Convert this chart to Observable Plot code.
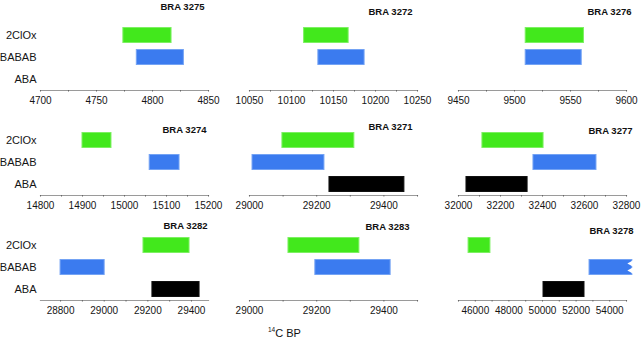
<!DOCTYPE html>
<html><head><meta charset="utf-8">
<script src="https://cdn.jsdelivr.net/npm/d3@7"></script>
<script src="https://cdn.jsdelivr.net/npm/@observablehq/plot@0.6"></script>
<style>
body{margin:0;background:#fff;}
#wrap{position:relative;width:642px;height:346px;overflow:hidden;font-family:"Liberation Sans",Arial,sans-serif;background:#fff;}
.panel{position:absolute;}
#xlabel{position:absolute;left:268px;top:326px;font-size:11px;color:#111;white-space:nowrap;}
#xlabel sup{font-size:6.5px;vertical-align:5px;}
</style></head><body><div id="wrap"></div>
<script>
// ---- data ----
const groups = ["2ClOx", "BABAB", "ABA"];
const samples = ["BRA 3275", "BRA 3272", "BRA 3276", "BRA 3274", "BRA 3271", "BRA 3277", "BRA 3282", "BRA 3283", "BRA 3278"];
const startClOx = [4774, 10115, 9510, 14900, 29098, 32114, 29180, 29116, 45600];
const endClOx   = [4817, 10168, 9562, 14969, 29312, 32405, 29391, 29327, 46900];
const startBABAB = [4786, 10132, 9510, 15060, 29009, 32357, 28800, 29196, 52800];
const endBABAB   = [4828, 10187, 9560, 15131, 29223, 32657, 29002, 29420, 55350];
const startABA = [null, null, null, null, 29238, 32038, 29221, null, 50060];
const endABA   = [null, null, null, null, 29461, 32329, 29437, null, 52500];
const truncatedBABAB = [false, false, false, false, false, false, false, false, true];
const xDomains = [[4700, 4850], [10050, 10250], [9450, 9600], [14800, 15200], [29000, 29500], [32000, 32800], [28708, 29478], [29000, 29500], [45000, 55000]];
const tickLabels = [
  [4700, 4750, 4800, 4850],
  [10050, 10100, 10150, 10200, 10250],
  [9450, 9500, 9550, 9600],
  [14800, 14900, 15000, 15100, 15200],
  [29000, 29200, 29400],
  [32000, 32200, 32400, 32600, 32800],
  [28800, 29000, 29200, 29400],
  [29000, 29200, 29400],
  [46000, 48000, 50000, 52000, 54000]
];
const minorStep = [25, 25, 25, 50, 100, 100, 100, 100, 1000];
const xTitle = "C BP";

// ---- layout / style ----
const colors = {"2ClOx": "#42e81c", "BABAB": "#3b7bef", "ABA": "#000000"};
const edge = {"2ClOx": "#7df062", "BABAB": "#74a3f4", "ABA": "#111111"};
const titleDx = [-4, -5, 5, -2, -5, 6, -1, -8, 7];
const titleDy = [6, 11, 11.5, 24, 21.5, 25.5, 15, 16.5, 20.5];
const starts = [startClOx, startBABAB, startABA];
const ends = [endClOx, endBABAB, endABA];
const font = "'Liberation Sans', Arial, sans-serif";

const wrap = document.getElementById("wrap");
samples.forEach((s, i) => {
  const col = i % 3, row = Math.floor(i / 3);
  const rows = [];
  groups.forEach((g, k) => {
    const st = starts[k][i], en = ends[k][i];
    if (st != null) rows.push({group: g, start: st, end: en});
  });
  const d0 = xDomains[i][0], d1 = xDomains[i][1], st = minorStep[i];
  const minor = d3.range(Math.ceil(d0 / st) * st, d1 + 1e-6, st);
  const notch = truncatedBABAB[i] ? rows.filter(r => r.group === "BABAB") : [];
  const marks = [
    Plot.barX(rows, {y: "group", x1: "start", x2: "end", fill: d => colors[d.group], stroke: d => edge[d.group], strokeWidth: 1, insetTop: 0.5, insetBottom: 0.5}),
    Plot.dot(notch, {x: "end", y: "group", dy: -4, symbol: "triangle", r: 3.2, fill: "white", rotate: -90}),
    Plot.dot(notch, {x: "end", y: "group", dy: 3, symbol: "triangle", r: 3.2, fill: "white", rotate: -90}),
    Plot.frame({anchor: "bottom", stroke: "#9a9a9a", strokeWidth: 1.2}),
    Plot.axisX({ticks: minor, tickSize: 1.5, tickFormat: () => "", stroke: "#666", label: null}),
    Plot.axisX({ticks: tickLabels[i], tickSize: 0, tickPadding: 6, tickFormat: d => String(d), fontSize: 10, fill: "#151515", label: null}),
    Plot.text([s], {frameAnchor: "top-right", text: d => d, textAnchor: "end", lineAnchor: "middle", fontWeight: "bold", fontSize: 9.5, fill: "#111", dx: titleDx[i], dy: titleDy[i]})
  ];
  if (col === 0) marks.push(Plot.axisY({tickSize: 0, tickPadding: 4, fontSize: 11, fill: "#151515", label: null}));
  const plot = Plot.plot({
    width: 220, height: 105,
    marginLeft: 40, marginRight: 12, marginTop: 0, marginBottom: 15,
    style: {background: "transparent", overflow: "visible", fontFamily: font, color: "#222"},
    x: {domain: xDomains[i], label: null},
    y: {domain: groups, range: [26, 87], paddingInner: 0.29, paddingOuter: 0, label: null, axis: col === 0 ? undefined : null},
    marks
  });
  plot.classList.add("panel");
  plot.style.left = (col * 209) + "px";
  plot.style.top = (row * 105) + "px";
  wrap.appendChild(plot);
});
const xl = document.createElement("div");
xl.id = "xlabel";
xl.innerHTML = "<sup>14</sup>" + xTitle;
wrap.appendChild(xl);
</script>
</body></html>
